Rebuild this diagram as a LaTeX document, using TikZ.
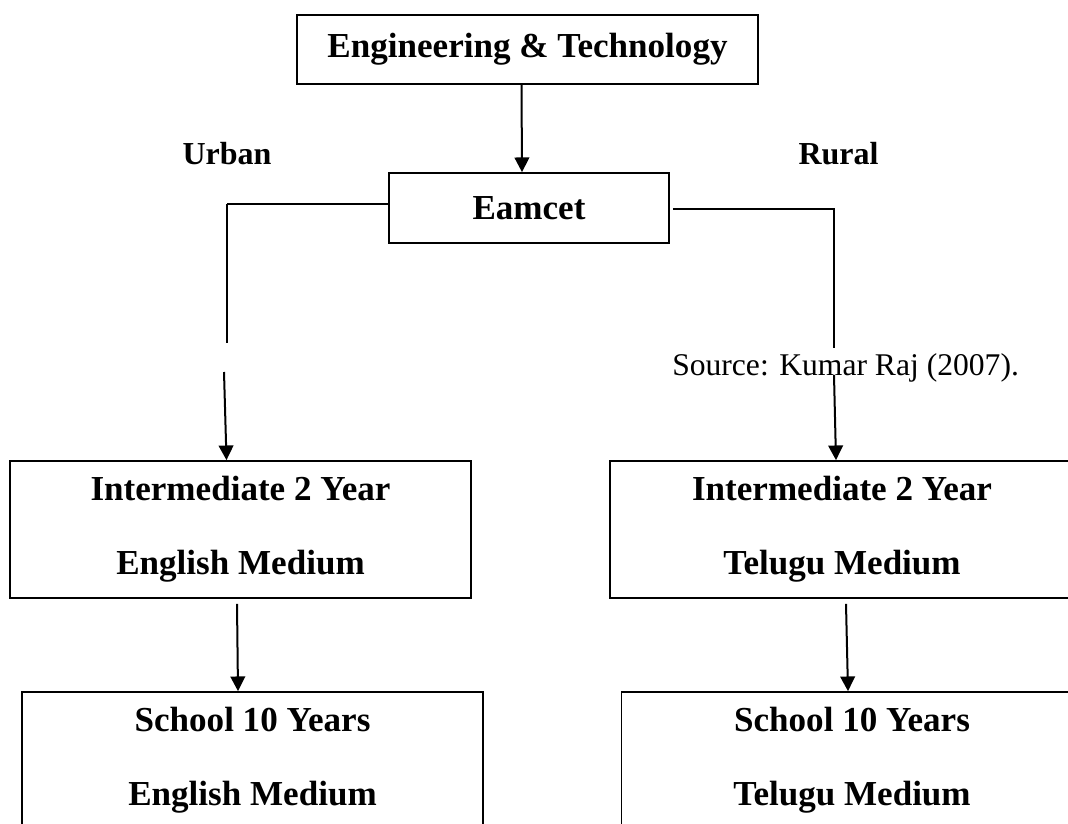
\documentclass[tikz,border=0pt]{standalone}
\usepackage{fontspec}
\setmainfont{Liberation Serif}
\usetikzlibrary{calc}
\usetikzlibrary{arrows.meta}
\newcommand{\pxunit}{0.75pt}
\tikzset{stagebox/.style n args={2}{draw,line width=1.3pt,inner sep=0pt,minimum width=#1*\pxunit,minimum height=#2*\pxunit,align=center,font=\fontsize{26.3}{55.5}\selectfont\bfseries}}
\tikzset{sidelabel/.style={inner sep=0pt,font=\fontsize{24}{28}\selectfont\bfseries}}
\tikzset{sourcenote/.style={inner sep=0pt,font=\fontsize{23.7}{28}\selectfont}}
\tikzset{flow/.style={line width=1.5pt,-{Triangle[length=11pt,width=11pt]}}}
\tikzset{feedline/.style={line width=#1},feedline/.default=1.3pt}

\begin{document}
\begin{tikzpicture}[x=\pxunit,y=-\pxunit]
		\clip (0,0) rectangle (1068,824);
		\node [stagebox={461}{69}] (tech) at (527.5,49.5) {Engineering \& Technology};
		\node [stagebox={280}{70}] (eamcet) at (529,208) {Eamcet};
		\node [stagebox={461}{137}] (interEng) at (240.5,529.5) {Intermediate 2 Year\\English Medium};
		\node [stagebox={464}{137}] (interTel) at (842,529.5) {Intermediate 2 Year\\Telugu Medium};
		\node [stagebox={461}{137}] (schoolEng) at (252.5,760.5) {School 10 Years\\English Medium};
		\node [stagebox={461}{137}] (schoolTel) at (852,760.5) {School 10 Years\\Telugu Medium};
		
		\node [sidelabel,anchor=base] (urban) at (227,165) {Urban};
		\node [sidelabel,anchor=base] (rural) at (838.5,165) {Rural};
		\node [sourcenote,anchor=base west] (source) at (672,375) {Source: Kumar Raj (2007).};
		
		\draw [flow] ($(tech.south)+(-6,0)$) -- ($(eamcet.north)+(-7,0)$);
		
		\coordinate (urbanCorner) at (227,204);
		\coordinate (urbanGap) at (227,343);
		\coordinate (urbanResume) at (224,372);
		\draw [feedline=1.8pt] (eamcet.west |- urbanCorner) -- (urbanCorner);
		\draw [feedline] (urbanCorner) -- (urbanGap);
		\draw [flow] (urbanResume) -- ($(interEng.north)+(-14,0)$);
		
		\coordinate (ruralCorner) at (834,209);
		\coordinate (ruralGap) at (834,348);
		\coordinate (ruralResume) at (834,375);
		\draw [feedline] ($(eamcet.east |- ruralCorner)+(3,0)$) -- (ruralCorner) -- (ruralGap);
		\draw [flow] (ruralResume) -- ($(interTel.north)+(-6,0)$);
		
		\draw [flow] ($(interEng.south)+(-3.5,5)$) -- ($(schoolEng.north)+(-14.5,0)$);
		\draw [flow] ($(interTel.south)+(4,5)$) -- ($(schoolTel.north)+(-4,0)$);
	\end{tikzpicture}
\end{document}
